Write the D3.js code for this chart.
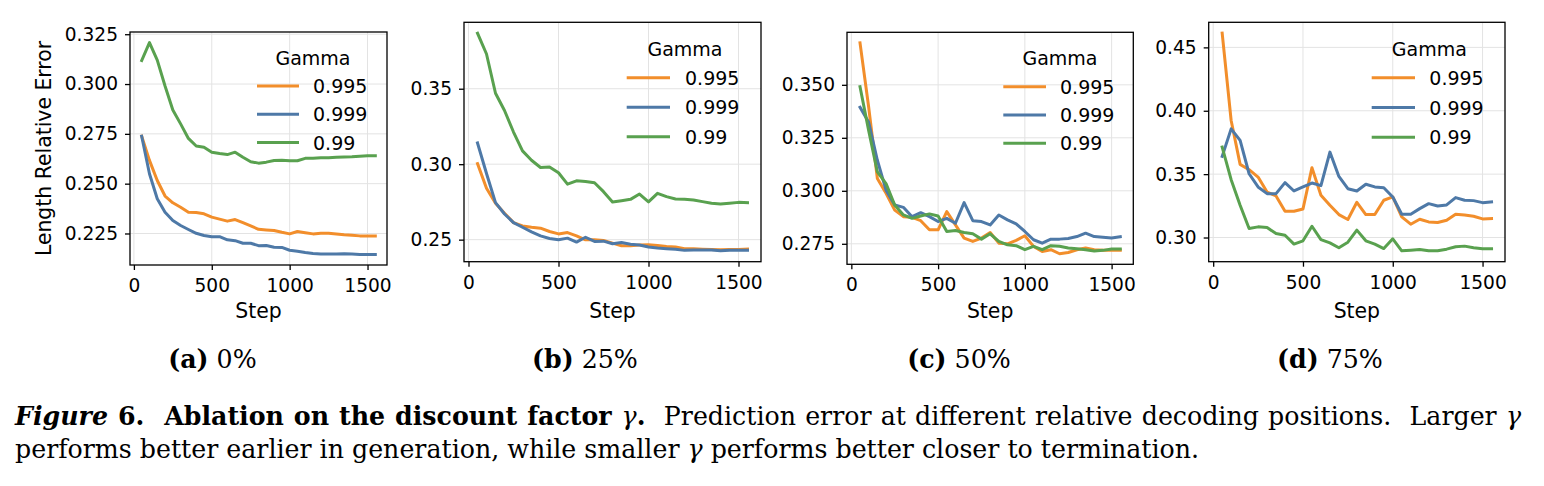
<!DOCTYPE html>
<html><head><meta charset="utf-8">
<script src="https://cdn.jsdelivr.net/npm/d3@7/dist/d3.min.js"></script>
<style>body{margin:0;background:#fff}svg{display:block}</style>
</head><body><svg id="c" width="1544" height="486"></svg>
<script>
// ---------- DATA ----------
const steps = [50,100,150,200,250,300,350,400,450,500,550,600,650,700,750,800,850,900,950,1000,1050,1100,1150,1200,1250,1300,1350,1400,1450,1500,1550];
const gammaLabels = ["0.995", "0.999", "0.99"];
const xTicks = [0, 500, 1000, 1500];

// (a) 0%
const a_g0995 = [0.2738,0.2617,0.2516,0.2438,0.2404,0.2382,0.2357,0.2355,0.2349,0.2332,0.2322,0.2312,0.2320,0.2304,0.2288,0.2271,0.2268,0.2265,0.2256,0.2248,0.2260,0.2254,0.2248,0.2251,0.2251,0.2248,0.2244,0.2241,0.2238,0.2238,0.2238];
const a_g0999 = [0.2738,0.2550,0.2424,0.2357,0.2315,0.2290,0.2270,0.2251,0.2240,0.2234,0.2234,0.2218,0.2214,0.2201,0.2201,0.2189,0.2190,0.2181,0.2180,0.2166,0.2161,0.2155,0.2150,0.2147,0.2147,0.2147,0.2148,0.2147,0.2145,0.2145,0.2145];
const a_g099  = [0.3118,0.3208,0.3120,0.2990,0.2870,0.2800,0.2727,0.2689,0.2683,0.2658,0.2651,0.2646,0.2658,0.2633,0.2610,0.2603,0.2608,0.2616,0.2618,0.2615,0.2615,0.2627,0.2628,0.2630,0.2630,0.2632,0.2634,0.2635,0.2638,0.2640,0.2640];
const a_yTicks = [0.225, 0.250, 0.275, 0.300, 0.325];

// (b) 25%
const b_g0995 = [0.3004,0.2840,0.2741,0.2675,0.2613,0.2591,0.2582,0.2576,0.2554,0.2538,0.2547,0.2525,0.2499,0.2499,0.2494,0.2477,0.2460,0.2460,0.2464,0.2466,0.2462,0.2455,0.2451,0.2440,0.2440,0.2437,0.2435,0.2433,0.2435,0.2435,0.2437];
const b_g0999 = [0.3141,0.2938,0.2745,0.2670,0.2613,0.2582,0.2552,0.2525,0.2508,0.2499,0.2510,0.2484,0.2516,0.2488,0.2490,0.2473,0.2481,0.2470,0.2464,0.2451,0.2444,0.2440,0.2437,0.2429,0.2431,0.2431,0.2431,0.2426,0.2429,0.2429,0.2429];
const b_g099  = [0.3868,0.3730,0.3470,0.3356,0.3213,0.3088,0.3026,0.2978,0.2982,0.2943,0.2868,0.2890,0.2886,0.2877,0.2818,0.2750,0.2758,0.2767,0.2802,0.2750,0.2807,0.2785,0.2769,0.2767,0.2763,0.2752,0.2741,0.2736,0.2741,0.2747,0.2745];
const b_yTicks = [0.25, 0.30, 0.35];

// (c) 50%
const c_g0995 = [0.3698,0.3394,0.3058,0.2988,0.2909,0.2878,0.2875,0.2859,0.2816,0.2816,0.2902,0.2839,0.2777,0.2761,0.2777,0.2803,0.2753,0.2750,0.2766,0.2788,0.2738,0.2714,0.2722,0.2703,0.2709,0.2722,0.2730,0.2722,0.2719,0.2719,0.2719];
const c_g0999 = [0.3394,0.3323,0.3144,0.3003,0.2933,0.2922,0.2878,0.2897,0.2878,0.2855,0.2870,0.2847,0.2944,0.2859,0.2855,0.2839,0.2886,0.2863,0.2844,0.2808,0.2769,0.2753,0.2772,0.2772,0.2775,0.2784,0.2800,0.2784,0.2781,0.2777,0.2783];
const c_g099  = [0.3491,0.3284,0.3089,0.3034,0.2933,0.2886,0.2870,0.2881,0.2891,0.2881,0.2808,0.2813,0.2803,0.2797,0.2772,0.2797,0.2761,0.2745,0.2741,0.2722,0.2738,0.2722,0.2741,0.2738,0.2730,0.2727,0.2722,0.2716,0.2719,0.2725,0.2725];
const c_yTicks = [0.275, 0.300, 0.325, 0.350];

// (d) 75%
const d_g0995 = [0.4612,0.3923,0.3577,0.3535,0.3477,0.3359,0.3328,0.3207,0.3207,0.3225,0.3551,0.3333,0.3254,0.3181,0.3142,0.3278,0.3181,0.3181,0.3294,0.3320,0.3163,0.3105,0.3144,0.3123,0.3118,0.3136,0.3184,0.3178,0.3168,0.3147,0.3149];
const d_g0999 = [0.3640,0.3857,0.3766,0.3503,0.3399,0.3346,0.3346,0.3433,0.3367,0.3399,0.3430,0.3409,0.3674,0.3482,0.3385,0.3367,0.3420,0.3399,0.3393,0.3320,0.3184,0.3184,0.3228,0.3267,0.3249,0.3257,0.3315,0.3294,0.3291,0.3275,0.3281];
const d_g099  = [0.3713,0.3456,0.3254,0.3071,0.3084,0.3079,0.3031,0.3018,0.2948,0.2974,0.3089,0.2984,0.2958,0.2919,0.2963,0.3058,0.2974,0.2948,0.2913,0.2990,0.2895,0.2900,0.2906,0.2895,0.2895,0.2908,0.2927,0.2932,0.2919,0.2911,0.2911];
const d_yTicks = [0.30, 0.35, 0.40, 0.45];

const subLetters = ["(a)", "(b)", "(c)", "(d)"];
const subPercents = ["0%", "25%", "50%", "75%"];

// ---------- LAYOUT ----------
const colors = ["#f28e2b", "#4e79a7", "#59a14f"];
const panels = [
  {series:[a_g0995,a_g0999,a_g099], yTicks:a_yTicks, fmt:".3f", box:{l:130,r:387,t:32,b:265},
   leg:{x0:257,x1:299,y0:86,dy:28.3,tx:313,ty:65}, capX:212.5},
  {series:[b_g0995,b_g0999,b_g099], yTicks:b_yTicks, fmt:".2f", box:{l:464,r:761,t:22.3,b:261.7},
   leg:{x0:626.7,x1:670,y0:77.7,dy:29.5,tx:685,ty:56}, capX:585},
  {series:[c_g0995,c_g0999,c_g099], yTicks:c_yTicks, fmt:".3f", box:{l:847,r:1133.3,t:32.3,b:264.3},
   leg:{x0:1003.3,x1:1046,y0:86.7,dy:28.3,tx:1060,ty:65}, capX:959},
  {series:[d_g0995,d_g0999,d_g099], yTicks:d_yTicks, fmt:".2f", box:{l:1208.7,r:1505,t:22.3,b:261.7},
   leg:{x0:1371.7,x1:1415,y0:77.7,dy:29.8,tx:1429.3,ty:56}, capX:1330}
];

const svg = d3.select("#c");
const FONT = "'DejaVu Sans', sans-serif";
const TICK_FS = 18.6, LABEL_FS = 20.4, LEG_FS = 19;

function padExtent(ext, frac) {
  const span = ext[1] - ext[0];
  return [ext[0] - span * frac, ext[1] + span * frac];
}

panels.forEach((p, pi) => {
  const B = p.box;
  const x = d3.scaleLinear().domain(padExtent(d3.extent(steps), 0.05)).range([B.l, B.r]);
  const allY = p.series.flat();
  const y = d3.scaleLinear().domain(padExtent(d3.extent(allY), 0.05)).range([B.b, B.t]);
  const g = svg.append("g");

  // grid
  g.append("g").selectAll("line").data(xTicks).join("line")
    .attr("x1", d => x(d)).attr("x2", d => x(d)).attr("y1", B.t).attr("y2", B.b)
    .attr("stroke", "#e3e3e3").attr("stroke-width", 1);
  g.append("g").selectAll("line").data(p.yTicks).join("line")
    .attr("x1", B.l).attr("x2", B.r).attr("y1", d => y(d)).attr("y2", d => y(d))
    .attr("stroke", "#e3e3e3").attr("stroke-width", 1);

  // axes
  const xa = g.append("g").attr("transform", `translate(0,${B.b})`)
    .call(d3.axisBottom(x).tickValues(xTicks).tickSize(5).tickPadding(7).tickFormat(d3.format("d")));
  const ya = g.append("g").attr("transform", `translate(${B.l},0)`)
    .call(d3.axisLeft(y).tickValues(p.yTicks).tickSize(5).tickPadding(7).tickFormat(d3.format(p.fmt)));
  [xa, ya].forEach(a => {
    a.select(".domain").remove();
    a.selectAll(".tick line").attr("stroke", "#000").attr("stroke-width", 1.3);
    a.selectAll(".tick text").attr("font-family", FONT).attr("font-size", TICK_FS).attr("fill", "#000");
  });
  xa.selectAll(".tick text").attr("dy", null).attr("y", 27).attr("dominant-baseline", "alphabetic");

  // lines
  const line = d3.line().x((d, i) => x(steps[i])).y(d => y(d));
  p.series.forEach((s, si) => {
    g.append("path").datum(s).attr("d", line).attr("fill", "none")
      .attr("stroke", colors[si]).attr("stroke-width", 3).attr("stroke-linejoin", "round").attr("stroke-linecap", "square");
  });

  // frame
  g.append("rect").attr("x", B.l).attr("y", B.t).attr("width", B.r - B.l).attr("height", B.b - B.t)
    .attr("fill", "none").attr("stroke", "#000").attr("stroke-width", 1.3);

  // x label
  g.append("text").attr("x", (B.l + B.r) / 2).attr("y", 317.5).attr("text-anchor", "middle")
    .attr("font-family", FONT).attr("font-size", LABEL_FS).text("Step");

  if (pi === 0) {
    g.append("text").attr("transform", `translate(51,${(B.t + B.b) / 2}) rotate(-90)`)
      .attr("text-anchor", "middle").attr("font-family", FONT).attr("font-size", LABEL_FS)
      .text("Length Relative Error");
  }

  // legend
  const L = p.leg;
  g.append("text").attr("x", L.tx).attr("y", L.ty).attr("text-anchor", "middle")
    .attr("font-family", FONT).attr("font-size", LEG_FS).text("Gamma");
  gammaLabels.forEach((lab, li) => {
    const ly = L.y0 + li * L.dy;
    g.append("line").attr("x1", L.x0).attr("x2", L.x1).attr("y1", ly).attr("y2", ly)
      .attr("stroke", colors[li]).attr("stroke-width", 3);
    g.append("text").attr("x", L.tx).attr("y", ly + 7).attr("font-family", FONT)
      .attr("font-size", LEG_FS).text(lab);
  });

  // sub caption
  const cap = svg.append("text").attr("x", p.capX).attr("y", 368).attr("text-anchor", "middle")
    .attr("class", "cap");
  cap.append("tspan").attr("font-weight", "bold").text(subLetters[pi]);
  cap.append("tspan").text(" " + subPercents[pi]);
});

// ---------- CAPTION ----------
const SERIF = "'DejaVu Serif', 'Liberation Serif', serif";
const line1 = svg.append("text").attr("x", 15).attr("y", 425).attr("class", "cap");
line1.append("tspan").attr("font-weight", "bold").attr("font-style", "italic").text("Figure");
line1.append("tspan").attr("font-weight", "bold").text(" 6.  Ablation on the discount factor ");
line1.append("tspan").attr("font-style", "italic").text("γ");
line1.append("tspan").attr("font-weight", "bold").text(".");
line1.append("tspan").text("  Prediction error at different relative decoding positions.  Larger ");
line1.append("tspan").attr("font-style", "italic").text("γ");

const line2 = svg.append("text").attr("x", 15).attr("y", 458).attr("class", "cap");
line2.append("tspan").text("performs better earlier in generation, while smaller ");
line2.append("tspan").attr("font-style", "italic").text("γ");
line2.append("tspan").text(" performs better closer to termination.");

svg.selectAll(".cap").attr("font-family", SERIF).attr("fill", "#000").style("white-space", "pre");

// fit caption font size so that line 2 spans its width in the reference
let fs = 22;
svg.selectAll(".cap").attr("font-size", fs);
const w2 = line2.node().getComputedTextLength();
fs = fs * 1185 / w2;
svg.selectAll(".cap").attr("font-size", fs);
// justify line 1 across the text block
const w1 = line1.node().getComputedTextLength();
const nSp = (line1.text().match(/ /g) || []).length;
line1.style("word-spacing", ((1506 - w1) / nSp) + "px");
</script></body></html>
